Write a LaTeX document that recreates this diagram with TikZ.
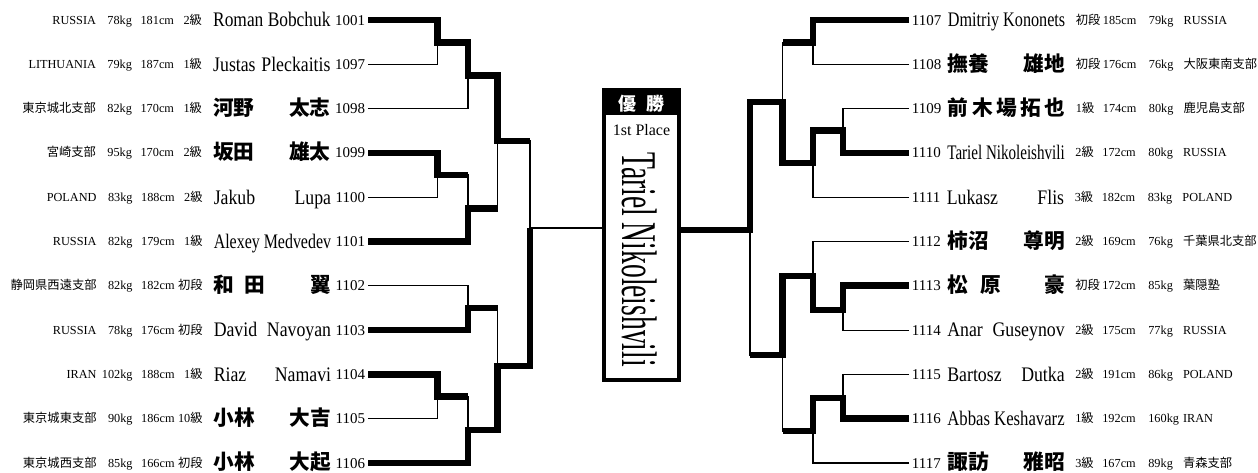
\documentclass[tikz,border=0pt]{standalone}
\usepackage{fontspec}
\setmainfont{Liberation Serif}
\newfontfamily\jpfont{Noto Sans CJK JP}
\newfontfamily\namefont{Liberation Serif}[FakeStretch=0.86]
\usepackage{graphicx}
\usepackage{tikz}
\usetikzlibrary{positioning}

\newcommand\jn[1]{{\jpfont\bfseries #1}}
\newcommand\ji[1]{{\jpfont #1}}
\newlength\namew \setlength\namew{88pt}
\newsavebox\namebox
\newcommand\nm[2]{\sbox\namebox{#1\ #2}%
  \ifdim\wd\namebox>\namew\resizebox{\namew}{\ht\namebox}{\usebox\namebox}%
  \else\makebox[\namew]{#1\hfill #2}\fi}
\newcommand\infoL[4]{#1\makebox[27pt][r]{#2}\makebox[31.5pt][r]{#3}\makebox[21pt][r]{#4}}
\newcommand\infoR[4]{\makebox[20.25pt][l]{#1}\makebox[34.5pt][l]{#2}\makebox[26pt][l]{#3}#4}

\begin{document}
\begin{tikzpicture}[
  x=0.75pt, y=-0.75pt,
  num/.style      = {inner xsep=2pt, inner ysep=0pt, text height=7.6pt,
                     text depth=0pt, font=\fontsize{11.25}{12}\selectfont},
  pname/.style    = {inner sep=0pt, text height=10.2pt, text depth=0pt,
                     font=\namefont\fontsize{15.5}{16}\selectfont},
  info/.style     = {inner sep=0pt, text height=6.1pt, text depth=0pt,
                     font=\fontsize{9.2}{10}\selectfont},
  champbox/.style = {draw, line width=3pt, minimum width=56.25pt,
                     minimum height=217.5pt, inner sep=0pt},
  wonline/.style  = {line width=5pt},
  lostline/.style = {line width=0.9pt}
]
\useasboundingbox (0,0) rectangle (1258,472);

% --- left side ---
\node[num, anchor=east] (p1001) at (368,20) {1001};
\node[pname, left=1pt of p1001] (name1001) {\nm{Roman}{Bobchuk}};
\node[info, left=8pt of name1001] (info1001) {\infoL{RUSSIA}{78kg}{181cm}{2\ji{級}}};
\node[num, anchor=east] (p1097) at (368,64.3) {1097};
\node[pname, left=1pt of p1097] (name1097) {\nm{Justas}{Pleckaitis}};
\node[info, left=8pt of name1097] (info1097) {\infoL{LITHUANIA}{79kg}{187cm}{1\ji{級}}};
\node[num, anchor=east] (p1098) at (368,108.6) {1098};
\node[pname, left=1pt of p1098] (name1098) {\nm{\jn{河野}}{\jn{太志}}};
\node[info, left=8pt of name1098] (info1098) {\infoL{\ji{東京城北支部}}{82kg}{170cm}{1\ji{級}}};
\node[num, anchor=east] (p1099) at (368,152.9) {1099};
\node[pname, left=1pt of p1099] (name1099) {\nm{\jn{坂田}}{\jn{雄太}}};
\node[info, left=8pt of name1099] (info1099) {\infoL{\ji{宮崎支部}}{95kg}{170cm}{2\ji{級}}};
\node[num, anchor=east] (p1100) at (368,197.2) {1100};
\node[pname, left=1pt of p1100] (name1100) {\nm{Jakub}{Lupa}};
\node[info, left=8pt of name1100] (info1100) {\infoL{POLAND}{83kg}{188cm}{2\ji{級}}};
\node[num, anchor=east] (p1101) at (368,241.5) {1101};
\node[pname, left=1pt of p1101] (name1101) {\nm{Alexey}{Medvedev}};
\node[info, left=8pt of name1101] (info1101) {\infoL{RUSSIA}{82kg}{179cm}{1\ji{級}}};
\node[num, anchor=east] (p1102) at (368,285.8) {1102};
\node[pname, left=1pt of p1102] (name1102) {\nm{\jn{和\hspace{0.5em}田}}{\jn{翼}}};
\node[info, left=8pt of name1102] (info1102) {\infoL{\ji{静岡県西遠支部}}{82kg}{182cm}{\ji{初段}}};
\node[num, anchor=east] (p1103) at (368,330.1) {1103};
\node[pname, left=1pt of p1103] (name1103) {\nm{David}{Navoyan}};
\node[info, left=8pt of name1103] (info1103) {\infoL{RUSSIA}{78kg}{176cm}{\ji{初段}}};
\node[num, anchor=east] (p1104) at (368,374.4) {1104};
\node[pname, left=1pt of p1104] (name1104) {\nm{Riaz}{Namavi}};
\node[info, left=8pt of name1104] (info1104) {\infoL{IRAN}{102kg}{188cm}{1\ji{級}}};
\node[num, anchor=east] (p1105) at (368,418.7) {1105};
\node[pname, left=1pt of p1105] (name1105) {\nm{\jn{小林}}{\jn{大吉}}};
\node[info, left=8pt of name1105] (info1105) {\infoL{\ji{東京城東支部}}{90kg}{186cm}{10\ji{級}}};
\node[num, anchor=east] (p1106) at (368,463) {1106};
\node[pname, left=1pt of p1106] (name1106) {\nm{\jn{小林}}{\jn{大起}}};
\node[info, left=8pt of name1106] (info1106) {\infoL{\ji{東京城西支部}}{85kg}{166cm}{\ji{初段}}};

% --- right side ---
\node[num, anchor=west] (q1107) at (909,20) {1107};
\node[pname, right=2.5pt of q1107] (name1107) {\nm{Dmitriy}{Kononets}};
\node[info, right=7.6pt of name1107] (info1107) {\infoR{\ji{初段}}{185cm}{79kg}{RUSSIA}};
\node[num, anchor=west] (q1108) at (909,64.3) {1108};
\node[pname, right=2.5pt of q1108] (name1108) {\nm{\jn{撫養}}{\jn{雄地}}};
\node[info, right=7.6pt of name1108] (info1108) {\infoR{\ji{初段}}{176cm}{76kg}{\ji{大阪東南支部}}};
\node[num, anchor=west] (q1109) at (909,108.6) {1109};
\node[pname, right=2.5pt of q1109] (name1109) {\nm{\jn{前\hfill 木\hfill 場\hfill 拓}}{\jn{也}}};
\node[info, right=7.6pt of name1109] (info1109) {\infoR{1\ji{級}}{174cm}{80kg}{\ji{鹿児島支部}}};
\node[num, anchor=west] (q1110) at (909,152.9) {1110};
\node[pname, right=2.5pt of q1110] (name1110) {\nm{Tariel}{Nikoleishvili}};
\node[info, right=7.6pt of name1110] (info1110) {\infoR{2\ji{級}}{172cm}{80kg}{RUSSIA}};
\node[num, anchor=west] (q1111) at (909,197.2) {1111};
\node[pname, right=2.5pt of q1111] (name1111) {\nm{Lukasz}{Flis}};
\node[info, right=7.6pt of name1111] (info1111) {\infoR{3\ji{級}}{182cm}{83kg}{POLAND}};
\node[num, anchor=west] (q1112) at (909,241.5) {1112};
\node[pname, right=2.5pt of q1112] (name1112) {\nm{\jn{柿沼}}{\jn{尊明}}};
\node[info, right=7.6pt of name1112] (info1112) {\infoR{2\ji{級}}{169cm}{76kg}{\ji{千葉県北支部}}};
\node[num, anchor=west] (q1113) at (909,285.8) {1113};
\node[pname, right=2.5pt of q1113] (name1113) {\nm{\jn{松\hspace{0.6em}原}}{\jn{豪}}};
\node[info, right=7.6pt of name1113] (info1113) {\infoR{\ji{初段}}{172cm}{85kg}{\ji{葉隠塾}}};
\node[num, anchor=west] (q1114) at (909,330.1) {1114};
\node[pname, right=2.5pt of q1114] (name1114) {\nm{Anar}{Guseynov}};
\node[info, right=7.6pt of name1114] (info1114) {\infoR{2\ji{級}}{175cm}{77kg}{RUSSIA}};
\node[num, anchor=west] (q1115) at (909,374.4) {1115};
\node[pname, right=2.5pt of q1115] (name1115) {\nm{Bartosz}{Dutka}};
\node[info, right=7.6pt of name1115] (info1115) {\infoR{2\ji{級}}{191cm}{86kg}{POLAND}};
\node[num, anchor=west] (q1116) at (909,418.7) {1116};
\node[pname, right=2.5pt of q1116] (name1116) {\nm{Abbas}{Keshavarz}};
\node[info, right=7.6pt of name1116] (info1116) {\infoR{1\ji{級}}{192cm}{160kg}{IRAN}};
\node[num, anchor=west] (q1117) at (909,463) {1117};
\node[pname, right=2.5pt of q1117] (name1117) {\nm{\jn{諏訪}}{\jn{雅昭}}};
\node[info, right=7.6pt of name1117] (info1117) {\infoR{3\ji{級}}{167cm}{89kg}{\ji{青森支部}}};

% --- champion box ---
\node[champbox] (champ) at (641.5,235) {};
\fill (champ.north west) rectangle ([yshift=-20.25pt]champ.north east);
\node[text=white, inner sep=0pt, font=\fontsize{13.5}{14}\selectfont]
  (yusho) at (641.5,104) {\jn{優\hspace{0.6em}勝}};
\node[inner sep=0pt, font=\fontsize{12}{13}\selectfont] (first) at (641.5,130) {1st Place};
\node[inner sep=0pt, rotate=-90] (cname) at (639.5,259.5)
  {\resizebox{161pt}{26pt}{Tariel Nikoleishvili}};

% --- match points ---
\coordinate (mA) at (437.5,42.2);
\coordinate (mB) at (468,75.4);
\coordinate (mC) at (437.5,175);
\coordinate (mD) at (468,208.3);
\coordinate (mE) at (497.5,141);
\coordinate (mF) at (468,308);
\coordinate (mG) at (437.5,396.5);
\coordinate (mH) at (468,430);
\coordinate (mI) at (497.5,366);
\coordinate (mJ) at (530,228);
\coordinate (nA) at (813,42.2);
\coordinate (nB) at (843,130.8);
\coordinate (nC) at (813,163);
\coordinate (nD) at (782.5,102);
\coordinate (nE) at (843,310);
\coordinate (nF) at (813,276);
\coordinate (nG) at (843,398);
\coordinate (nH) at (813,431);
\coordinate (nI) at (782.5,355);
\coordinate (nJ) at (750,230);

% --- lost bouts (thin) ---
\draw[lostline] (p1097.east) -| (mA);
\draw[lostline] (p1098.east) -| (mB);
\draw[lostline] (p1100.east) -| (mC);
\draw[lostline] (p1102.east) -| (mF);
\draw[lostline] (p1105.east) -| (mG);
\draw[lostline] (mC) -| (mD);
\draw[lostline] (mD) -| (mE);
\draw[lostline] (mE) -| (mJ);
\draw[lostline] (mF) -| (mI);
\draw[lostline] (mG) -| (mH);
\draw[lostline] (mJ) -- (mJ -| champ.west);
\draw[lostline] (q1108.west) -| (nA);
\draw[lostline] (q1109.west) -| (nB);
\draw[lostline] (q1111.west) -| (nC);
\draw[lostline] (q1112.west) -| (nF);
\draw[lostline] (q1114.west) -| (nE);
\draw[lostline] (q1115.west) -| (nG);
\draw[lostline] (q1117.west) -| (nH);
\draw[lostline] (nA) -| (nD);
\draw[lostline] (nH) -| (nI);
\draw[lostline] (nI) -| (nJ);

% --- won bouts (thick) ---
\draw[wonline] (p1001.east) -| (mA) -| (mB) -| (mE) -- (mE -| mJ);
\draw[wonline] (p1099.east) -| (mC) -- (mC -| mD);
\draw[wonline] (p1101.east) -| (mD) -- (mD -| mE);
\draw[wonline] (p1103.east) -| (mF) -- (mF -| mI);
\draw[wonline] (p1104.east) -| (mG) -- (mG -| mH);
\draw[wonline] (p1106.east) -| (mH) -| (mI) -| (mJ);
\draw[wonline] (q1107.west) -| (nA) -- (nA -| nD);
\draw[wonline] (q1110.west) -| (nB) -| (nC) -| (nD) -| (nJ) -- (nJ -| champ.east);
\draw[wonline] (q1113.west) -| (nE) -| (nF) -| (nI) -- (nI -| nJ);
\draw[wonline] (q1116.west) -| (nG) -| (nH) -- (nH -| nI);

\end{tikzpicture}
\end{document}
